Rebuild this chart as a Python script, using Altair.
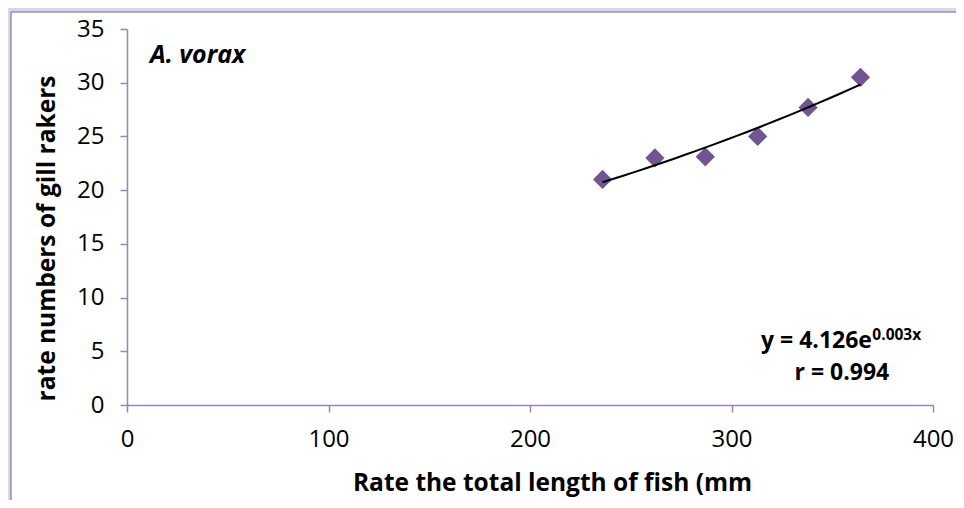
import altair as alt
import pandas as pd

# Data
length_mm = [236, 262, 287, 313, 338, 364]
gill_rakers = [21.0, 23.0, 23.1, 25.0, 27.7, 30.5]

x_ticks = [0, 100, 200, 300, 400]
y_ticks = [0, 5, 10, 15, 20, 25, 30, 35]

species_label = "A. vorax"
eq_main = "y = 4.126e"
eq_sup = "0.003x"
eq_r = "r = 0.994"

df = pd.DataFrame({"x": length_mm, "y": gill_rakers})
one = pd.DataFrame({"k": [0]})

FONT = "Open Sans"
PURPLE = "#6F5693"
AXIS = "#9A80C4"

xscale = alt.Scale(domain=[0, 400], nice=False, zero=True)
yscale = alt.Scale(domain=[0, 35], nice=False, zero=True)

xaxis = alt.Axis(
    values=x_ticks, title="Rate the total length of fish (mm", grid=False,
    domainColor=AXIS, domainWidth=1.5, tickColor=AXIS, tickWidth=1.5, tickSize=7,
    labelFont=FONT, labelFontSize=24, labelColor="#000000", labelPadding=15,
    labelFlush=False, labelOverlap=False,
    titleFont=FONT, titleFontSize=24.5, titleFontWeight="bold", titleColor="#000000",
    titleX=425, titleY=85, titleBaseline="alphabetic", titleAlign="center", titleAnchor=None,
)
yaxis = alt.Axis(
    values=y_ticks, title="rate numbers of gill rakers", grid=False,
    domainColor=AXIS, domainWidth=1.5, tickColor=AXIS, tickWidth=1.5, tickSize=7,
    labelFont=FONT, labelFontSize=24, labelColor="#000000", labelPadding=16,
    labelFlush=False, labelOverlap=False,
    titleFont=FONT, titleFontSize=24.5, titleFontWeight="bold", titleColor="#000000",
    titleX=-73, titleY=209, titleBaseline="alphabetic", titleAlign="center", titleAngle=270,
)

points = alt.Chart(df).mark_point(
    shape="diamond", filled=True, size=370, color=PURPLE, opacity=1
).encode(
    x=alt.X("x:Q", scale=xscale, axis=xaxis),
    y=alt.Y("y:Q", scale=yscale, axis=yaxis),
)

trend = alt.Chart(df).transform_regression(
    "x", "y", method="exp"
).mark_line(color="#000000", strokeWidth=2).encode(
    x=alt.X("x:Q", scale=xscale),
    y=alt.Y("y:Q", scale=yscale),
)

species = alt.Chart(one).mark_text(
    text=species_label, font=FONT, fontSize=25, fontWeight="bold", fontStyle="italic",
    align="left", baseline="alphabetic", color="#000000",
).encode(x=alt.datum(11.4, type="quantitative", scale=xscale),
         y=alt.datum(31.83, type="quantitative", scale=yscale))

eq1 = alt.Chart(one).mark_text(
    text=eq_main, font=FONT, fontSize=23, fontWeight="bold",
    align="right", baseline="alphabetic", color="#000000",
).encode(x=alt.datum(369.7, type="quantitative", scale=xscale),
         y=alt.datum(5.31, type="quantitative", scale=yscale))

eq1s = alt.Chart(one).mark_text(
    text=eq_sup, font=FONT, fontSize=15.5, fontWeight="bold",
    align="left", baseline="alphabetic", color="#000000",
).encode(x=alt.datum(369.9, type="quantitative", scale=xscale),
         y=alt.datum(6.05, type="quantitative", scale=yscale))

eq2 = alt.Chart(one).mark_text(
    text=eq_r, font=FONT, fontSize=23, fontWeight="bold",
    align="center", baseline="alphabetic", color="#000000",
).encode(x=alt.datum(354.8, type="quantitative", scale=xscale),
         y=alt.datum(2.33, type="quantitative", scale=yscale))

# decorative frame (outer chart border with lavender glow)
glow_top = alt.Chart(one).mark_rect(color="#DCD3EE").encode(
    x=alt.value(-119), x2=alt.value(829), y=alt.value(-21), y2=alt.value(-17))
glow_left = alt.Chart(one).mark_rect(color="#DCD3EE").encode(
    x=alt.value(-119), x2=alt.value(-116), y=alt.value(-17), y2=alt.value(471))
line_top = alt.Chart(one).mark_rule(color="#948EA6", strokeWidth=1.5).encode(
    x=alt.value(-116), x2=alt.value(829), y=alt.value(-17))
line_left = alt.Chart(one).mark_rule(color="#948EA6", strokeWidth=1.5).encode(
    x=alt.value(-116), y=alt.value(-17), y2=alt.value(471))

chart = alt.layer(
    glow_top, glow_left, line_top, line_left,
    points, trend, species, eq1, eq1s, eq2,
).properties(
    width=806, height=376,
    autosize=alt.AutoSizeParams(type="none"),
    padding={"left": 119, "top": 21, "right": 23, "bottom": 95},
    background="#FFFFFF",
).configure_view(stroke=None)

chart.save("out.html", embed_options={"renderer": "svg", "actions": False})
